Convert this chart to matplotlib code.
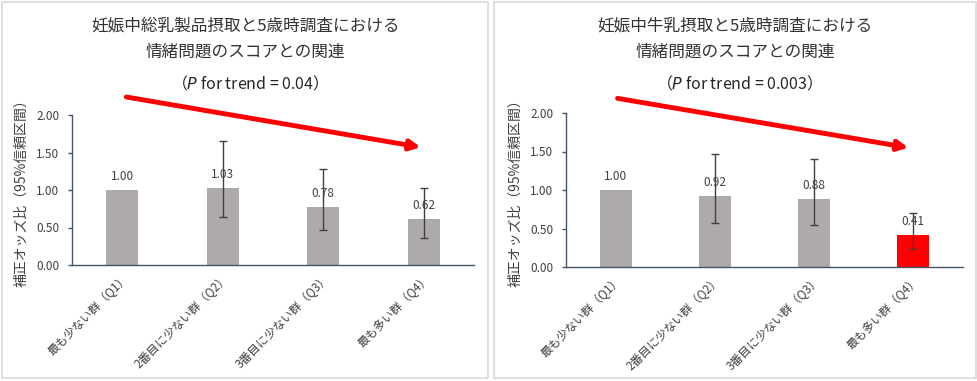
import matplotlib
matplotlib.use("Agg")
import matplotlib.pyplot as plt
from matplotlib.patches import Rectangle

plt.rcParams['font.family'] = ['Noto Sans CJK JP', 'DejaVu Sans']
plt.rcParams['mathtext.fontset'] = 'dejavusans'

# data
categories = ["最も少ない群（Q1）", "2番目に少ない群（Q2）", "3番目に少ない群（Q3）", "最も多い群（Q4）"]

left_title = "妊娠中総乳製品摂取と5歳時調査における\n情緒問題のスコアとの関連"
left_p = "（$\\it{P}$ for trend = 0.04）"
left_or = [1.00, 1.03, 0.78, 0.62]
left_lo = [None, 0.64, 0.47, 0.36]
left_hi = [None, 1.66, 1.28, 1.03]
left_colors = ["#AEAAAA", "#AEAAAA", "#AEAAAA", "#AEAAAA"]

right_title = "妊娠中牛乳摂取と5歳時調査における\n情緒問題のスコアとの関連"
right_p = "（$\\it{P}$ for trend = 0.003）"
right_or = [1.00, 0.92, 0.88, 0.41]
right_lo = [None, 0.57, 0.54, 0.23]
right_hi = [None, 1.47, 1.40, 0.70]
right_colors = ["#AEAAAA", "#AEAAAA", "#AEAAAA", "#FF0000"]

W, H = 978, 381
fig = plt.figure(figsize=(W / 100, H / 100), dpi=100)
fig.patch.set_facecolor("white")

TXT = "#404040"
AXC = "#44546A"


def px_axes(x0, y_top, x1, y_bot):
    return fig.add_axes([x0 / W, 1 - y_bot / H, (x1 - x0) / W, (y_bot - y_top) / H])


def draw_panel(box, ax_box, cx, title, ptext, vals, lo, hi, colors, arrow):
    # panel border
    fig.patches.append(Rectangle((box[0] / W, 1 - box[3] / H), (box[2] - box[0]) / W,
                                 (box[3] - box[1]) / H, transform=fig.transFigure,
                                 fill=False, edgecolor="#D9D9D9", linewidth=1.2))
    fig.text(cx / W, 1 - 39 / H, title, ha="center", va="center", fontsize=12,
             color="#333333", linespacing=1.75)
    fig.text(cx / W, 1 - 84 / H, ptext, ha="center", va="center", fontsize=11.5, color="#262626")

    ax = px_axes(*ax_box)
    x = list(range(len(vals)))
    ax.bar(x, vals, width=0.32, color=colors)
    for i, v in enumerate(vals):
        if lo[i] is not None:
            ax.errorbar(i, v, yerr=[[v - lo[i]], [hi[i] - v]], fmt="none",
                        ecolor="#404040", elinewidth=1, capsize=3, capthick=1)
        ax.annotate(f"{v:.2f}", (i, v), xytext=(0, 5), textcoords="offset points",
                    ha="center", va="bottom", fontsize=8.5, color=TXT)

    ax.set_xlim(-0.5, len(vals) - 0.5)
    ax.set_ylim(0, 2)
    ax.set_yticks([0, 0.5, 1.0, 1.5, 2.0])
    ax.set_yticklabels([f"{t:.2f}" for t in [0, 0.5, 1.0, 1.5, 2.0]])
    ax.set_xticks(x)
    ax.set_xticklabels(categories, rotation=45, ha="right", rotation_mode="anchor")
    ax.tick_params(axis="x", length=0, pad=5, labelsize=8.5, labelcolor=TXT)
    ax.tick_params(axis="y", length=3, width=1, color=AXC, labelsize=8.5, labelcolor=TXT, pad=6)
    for s in ["top", "right"]:
        ax.spines[s].set_visible(False)
    for s in ["left", "bottom"]:
        ax.spines[s].set_color(AXC)
        ax.spines[s].set_linewidth(1)
    ax.set_ylabel("補正オッズ比（95%信頼区間）", fontsize=10, color=TXT, labelpad=6)

    ax.annotate("", xy=arrow[1], xytext=arrow[0], annotation_clip=False,
                arrowprops=dict(arrowstyle="-|>,head_length=0.6,head_width=0.3",
                                color="#FF0000", lw=3.5, shrinkA=0, shrinkB=0))


draw_panel((2, 2, 488, 378), (72, 115, 474, 265), 245, left_title, left_p,
           left_or, left_lo, left_hi, left_colors, ((0.04, 2.24), (2.97, 1.57)))
draw_panel((494, 2, 976, 378), (566, 113, 963, 267), 735, right_title, right_p,
           right_or, right_lo, right_hi, right_colors, ((0.02, 2.19), (2.95, 1.55)))

fig.savefig("out.png", dpi=100, facecolor="white")
